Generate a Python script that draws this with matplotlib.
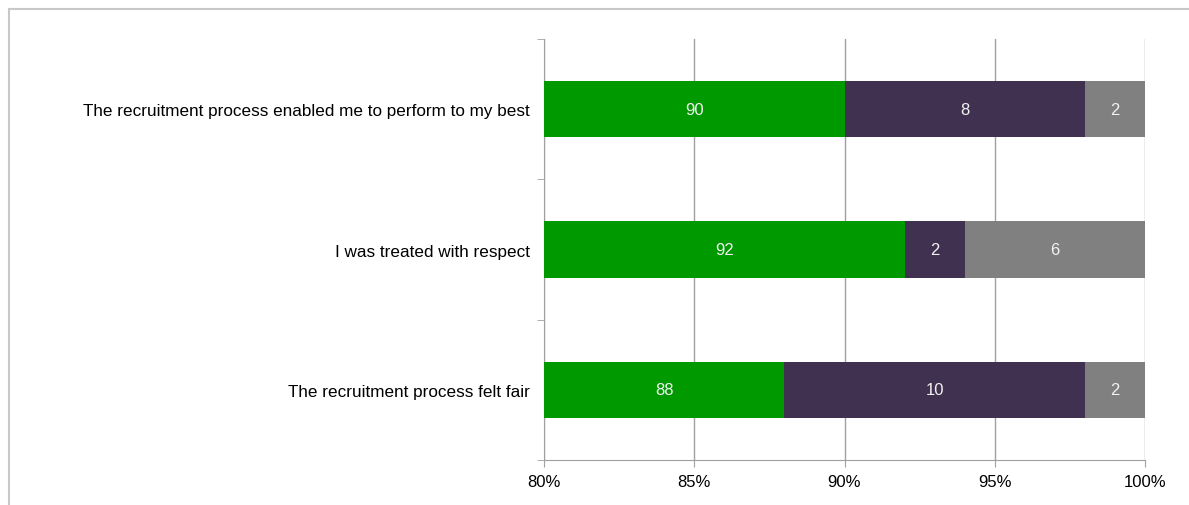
import numpy as np
import matplotlib.pyplot as plt
from matplotlib.lines import Line2D

plt.rcParams['font.family'] = ['Liberation Sans', 'DejaVu Sans']

# Datos
statements = ["The recruitment process enabled me to perform to my best",
              "I was treated with respect",
              "The recruitment process felt fair"]
agree = [90, 92, 88]
disagree = [8, 2, 10]
dont_know = [2, 6, 2]
colors = ['#009900', '#403151', '#808080']

fig = plt.figure(figsize=(11.89, 5.06), dpi=100)
ax = fig.add_axes([544/1189, 1 - 461/506, 601/1189, 421/506])

# marco gris alrededor del gráfico
fig.add_artist(Line2D([9/1189, 1], [1 - 10/506, 1 - 10/506], color='#c8c8c8', lw=1.5))
fig.add_artist(Line2D([9/1189, 9/1189], [0, 1 - 10/506], color='#c8c8c8', lw=1.5))

y = np.arange(len(statements))
xmin, xmax = 80, 100
lefts = np.zeros(len(statements))
for vals, c in zip([agree, disagree, dont_know], colors):
    vals = np.array(vals, dtype=float)
    ax.barh(y, vals, left=lefts, height=0.4, color=c, zorder=3)
    for yi, l, v in zip(y, lefts, vals):
        a = max(l, xmin)
        b = min(l + v, xmax)
        ax.text((a + b) / 2, yi, f"{int(v)}", ha='center', va='center',
                color='#f2f2f2', fontsize=12, zorder=4)
    lefts += vals

ax.set_xlim(xmin, xmax)
ax.set_ylim(len(statements) - 0.5, -0.5)
ax.set_xticks([80, 85, 90, 95, 100])
ax.set_xticklabels(['80%', '85%', '90%', '95%', '100%'], fontsize=12)
ax.set_yticks(y)
ax.set_yticklabels(statements, fontsize=12.3)
ax.set_yticks(np.arange(-0.5, len(statements)), minor=True)
ax.tick_params(axis='y', which='major', length=0, pad=10)
ax.tick_params(axis='y', which='minor', length=5, color='#a0a0a0')
ax.tick_params(axis='x', length=5, color='#a0a0a0', pad=5)
ax.grid(axis='x', color='#a0a0a0', lw=1, zorder=0)
for s in ['top', 'right']:
    ax.spines[s].set_visible(False)
for s in ['left', 'bottom']:
    ax.spines[s].set_color('#a0a0a0')

plt.savefig('out.png', dpi=100)
